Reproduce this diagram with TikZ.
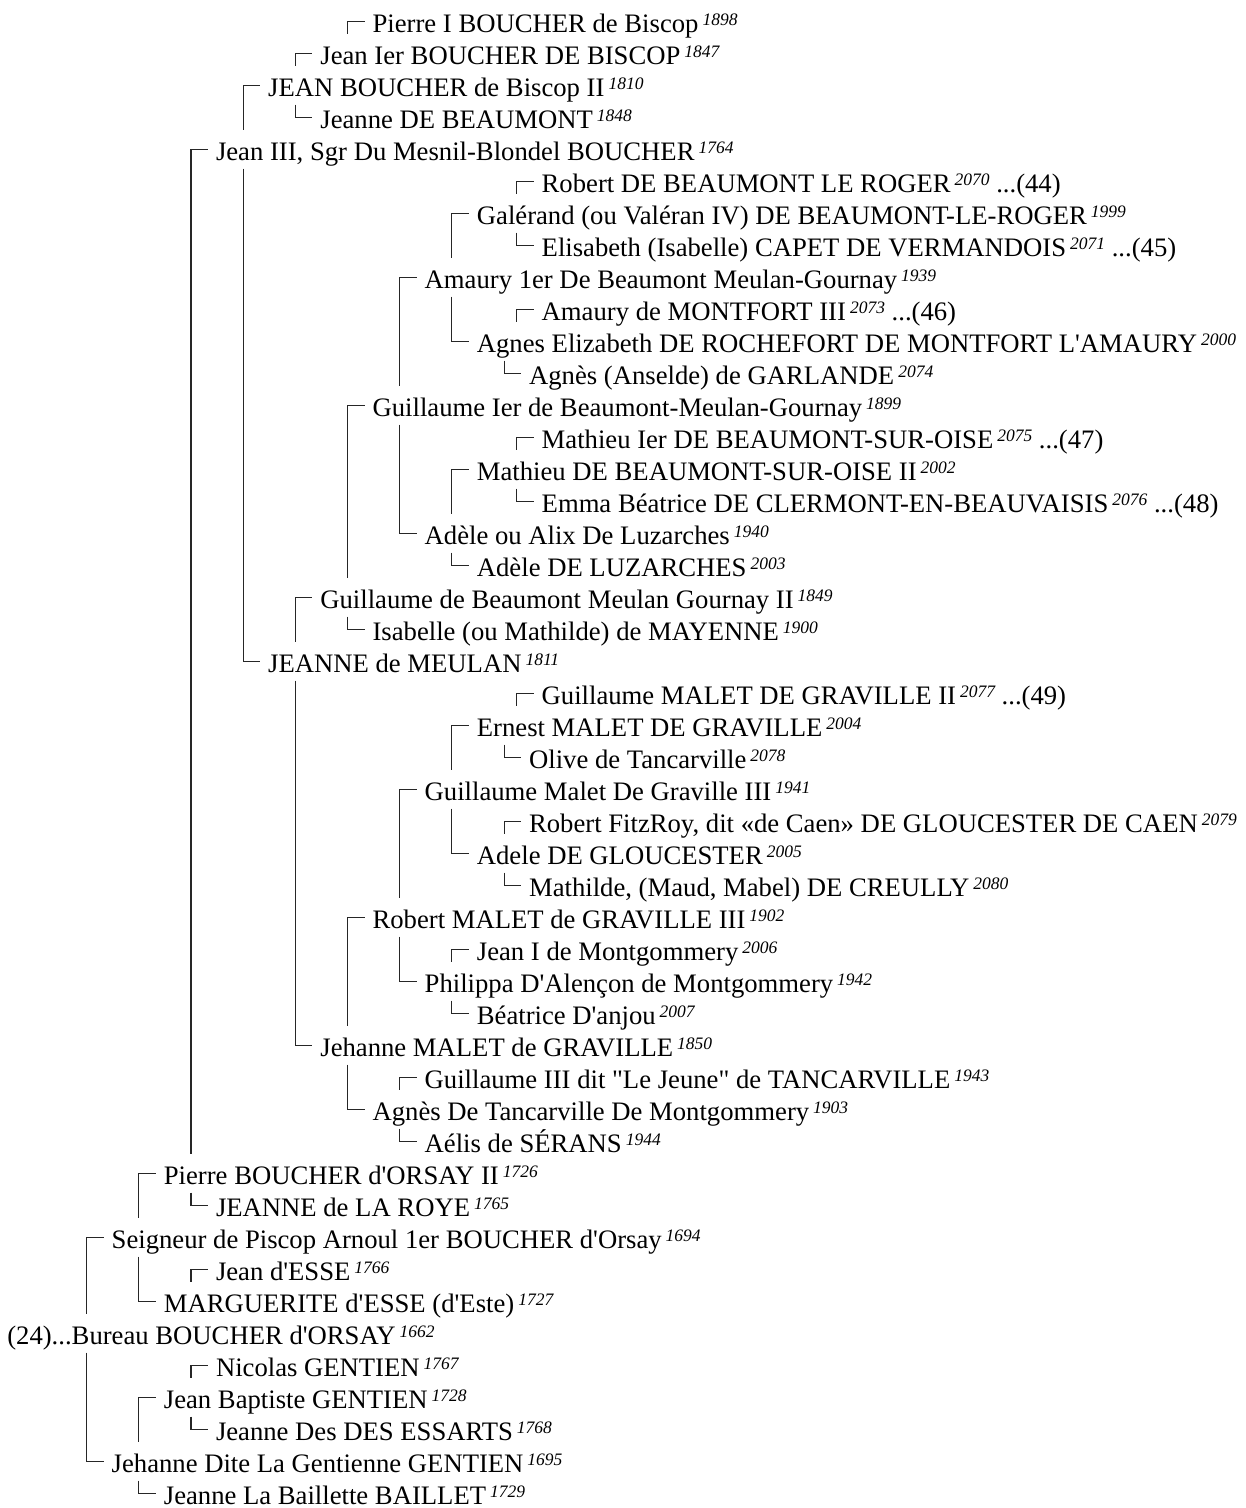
\documentclass[tikz,border=0pt]{standalone}
\usepackage{fontspec}
\setmainfont{Liberation Serif}[Ligatures=TeXOff]
\newcommand\yr[1]{\kern4pt\raisebox{7.5pt}{\fontsize{17.5}{17.5}\selectfont\itshape #1}}
\tikzset{
  per/.style={anchor=base west, inner sep=0pt, outer sep=0pt, font=\fontsize{26.67}{30}\selectfont},
  link/.style={line width=1.1pt, draw=black!85}
}
% #1 row number, #2 bracket x, #3 text
\newcommand\pers[3]{%
  \node[per] (p#1) at ({#2+25},{32*#1+0.8}) {#3};
  \coordinate (k#1) at ([xshift=-25pt,yshift=11.5pt]p#1.base west);
  \coordinate (u#1) at ([yshift=31.3pt]p#1.base west);
  \coordinate (d#1) at ([yshift=-7.7pt]p#1.base west);
}
\begin{document}
\begin{tikzpicture}[x=1pt,y=-1pt]
\useasboundingbox (0,0) rectangle (1246,1508);
\pers{1}{347.6}{Pierre I BOUCHER de Biscop\yr{1898}}
\pers{2}{295.4}{Jean Ier BOUCHER DE BISCOP\yr{1847}}
\pers{3}{243.2}{JEAN BOUCHER de Biscop II\yr{1810}}
\pers{4}{295.4}{Jeanne DE BEAUMONT\yr{1848}}
\pers{5}{191.0}{Jean III, Sgr Du Mesnil-Blondel BOUCHER\yr{1764}}
\pers{6}{516.7}{Robert DE BEAUMONT LE ROGER\yr{2070} ...(44)}
\pers{7}{451.9}{Galérand (ou Valéran IV) DE BEAUMONT-LE-ROGER\yr{1999}}
\pers{8}{516.7}{Elisabeth (Isabelle) CAPET DE VERMANDOIS\yr{2071} ...(45)}
\pers{9}{399.7}{Amaury 1er De Beaumont Meulan-Gournay\yr{1939}}
\pers{10}{516.7}{Amaury de MONTFORT III\yr{2073} ...(46)}
\pers{11}{451.9}{Agnes Elizabeth DE ROCHEFORT DE MONTFORT L'AMAURY\yr{2000}}
\pers{12}{504.1}{Agnès (Anselde) de GARLANDE\yr{2074}}
\pers{13}{347.6}{Guillaume Ier de Beaumont-Meulan-Gournay\yr{1899}}
\pers{14}{516.7}{Mathieu Ier DE BEAUMONT-SUR-OISE\yr{2075} ...(47)}
\pers{15}{451.9}{Mathieu DE BEAUMONT-SUR-OISE II\yr{2002}}
\pers{16}{516.7}{Emma Béatrice DE CLERMONT-EN-BEAUVAISIS\yr{2076} ...(48)}
\pers{17}{399.7}{Adèle ou Alix De Luzarches\yr{1940}}
\pers{18}{451.9}{Adèle DE LUZARCHES\yr{2003}}
\pers{19}{295.4}{Guillaume de Beaumont Meulan Gournay II\yr{1849}}
\pers{20}{347.6}{Isabelle (ou Mathilde) de MAYENNE\yr{1900}}
\pers{21}{243.2}{JEANNE de MEULAN\yr{1811}}
\pers{22}{516.7}{Guillaume MALET DE GRAVILLE II\yr{2077} ...(49)}
\pers{23}{451.9}{Ernest MALET DE GRAVILLE\yr{2004}}
\pers{24}{504.1}{Olive de Tancarville\yr{2078}}
\pers{25}{399.7}{Guillaume Malet De Graville III\yr{1941}}
\pers{26}{504.1}{Robert FitzRoy, dit «de Caen» DE GLOUCESTER DE CAEN\yr{2079}}
\pers{27}{451.9}{Adele DE GLOUCESTER\yr{2005}}
\pers{28}{504.1}{Mathilde, (Maud, Mabel) DE CREULLY\yr{2080}}
\pers{29}{347.6}{Robert MALET de GRAVILLE III\yr{1902}}
\pers{30}{451.9}{Jean I de Montgommery\yr{2006}}
\pers{31}{399.7}{Philippa D'Alençon de Montgommery\yr{1942}}
\pers{32}{451.9}{Béatrice D'anjou\yr{2007}}
\pers{33}{295.4}{Jehanne MALET de GRAVILLE\yr{1850}}
\pers{34}{399.7}{Guillaume III dit "Le Jeune" de TANCARVILLE\yr{1943}}
\pers{35}{347.6}{Agnès De Tancarville De Montgommery\yr{1903}}
\pers{36}{399.7}{Aélis de SÉRANS\yr{1944}}
\pers{37}{138.9}{Pierre BOUCHER d'ORSAY II\yr{1726}}
\pers{38}{191.0}{JEANNE de LA ROYE\yr{1765}}
\pers{39}{86.7}{Seigneur de Piscop Arnoul 1er BOUCHER d'Orsay\yr{1694}}
\pers{40}{191.0}{Jean d'ESSE\yr{1766}}
\pers{41}{138.9}{MARGUERITE d'ESSE (d'Este)\yr{1727}}
\pers{42}{-17.7}{(24)...Bureau BOUCHER d'ORSAY\yr{1662}}
\pers{43}{191.0}{Nicolas GENTIEN\yr{1767}}
\pers{44}{138.9}{Jean Baptiste GENTIEN\yr{1728}}
\pers{45}{191.0}{Jeanne Des DES ESSARTS\yr{1768}}
\pers{46}{86.7}{Jehanne Dite La Gentienne GENTIEN\yr{1695}}
\pers{47}{138.9}{Jeanne La Baillette BAILLET\yr{1729}}
% fathers: father/child
\foreach \f/\c in {1/2,2/3,3/5,5/37,6/7,7/9,9/13,10/11,13/19,14/15,15/17,19/21,22/23,23/25,25/29,26/27,29/33,30/31,34/35,37/39,39/42,40/41,43/44,44/46}
  \draw[link] (k\f |- u\c) -- (k\f) -- ++(17,0);
% mothers: mother/child
\foreach \m/\c in {4/3,8/7,11/9,12/11,16/15,17/13,18/17,20/19,21/5,24/23,27/25,28/27,31/29,32/31,33/21,35/33,36/35,38/37,41/39,45/44,46/42,47/46}
  \draw[link] (k\m |- d\c) -- (k\m) -- ++(17,0);
\end{tikzpicture}
\end{document}
